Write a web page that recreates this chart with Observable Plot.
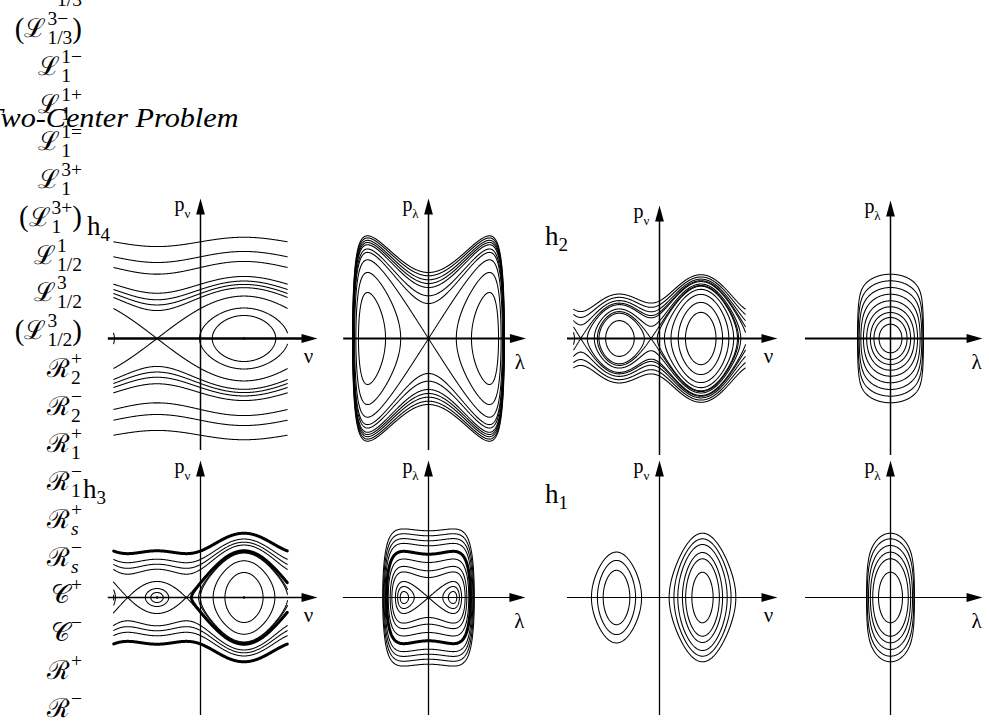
<!DOCTYPE html>
<html>
<head>
<meta charset="utf-8">
<script src="https://cdn.jsdelivr.net/npm/d3@7"></script>
<script src="https://cdn.jsdelivr.net/npm/@observablehq/plot@0.6"></script>
<style>
  html, body { margin: 0; padding: 0; background: #fff; }
  #figure { position: relative; width: 989px; height: 723px; overflow: hidden; background: #fff;
            font-family: "Liberation Serif", "DejaVu Serif", serif; color: #000; }
  .panel { position: absolute; }
  .panel svg { display: block; overflow: visible; }
  .row { position: absolute; right: 907px; transform: translateY(-50%); display: flex; align-items: center;
         font-size: 29px; line-height: 1; white-space: nowrap; }
  .base { font-family: "DejaVu Serif", serif; font-size: 26px; }
  .scripts { display: flex; flex-direction: column; font-size: 19.5px; line-height: 0.98; margin-left: 1px; }
  .title { position: absolute; top: 104px; font-style: italic; font-size: 28px; line-height: 1; white-space: nowrap; }
  .energy { position: absolute; font-size: 27px; line-height: 1; white-space: nowrap; }
  .energy sub { font-size: 19px; vertical-align: -0.3em; }
</style>
</head>
<body>
<div id="figure"></div>
<script>
// ---------- Orbit-type labels of the left column ----------
const labelBase  = ["ℒ","ℒ","ℒ","ℒ","ℒ","ℒ","ℒ","ℒ","ℒ","ℒ","ℛ","ℛ","ℛ","ℛ","ℛ","ℛ","𝒞","𝒞","ℛ","ℛ"];
const labelSup   = ["3+","3−","1−","1+","1=","3+","3+","1","3","3","+","−","+","−","+","−","+","−","+","−"];
const labelSub   = ["1/3","1/3","1","1","1","1","1","1/2","1/2","1/2","2","2","1","1","s","s","","","",""];
const labelParen = [false,true,false,false,false,false,true,false,false,true,false,false,false,false,false,false,false,false,false,false];
const titleText  = "Two-Center Problem";

// Energy levels of the two rows / columns of phase portraits
const energyNames = ["h4", "h2", "h3", "h1"];
const energyIndex = ["4", "2", "3", "1"];

// ---------- ν-plane potentials  V(ν) = c0·cos2πν + c1·cosπν + c2·sinπν + c3 ----------
const h4NuCoef = [0, 0, -0.09, 0];
const h2NuCoef = [0.09375, -0.0275, -0.105, -0.01125];
const h3NuCoef = [0.0497, 0, -0.0976, 0];
const h1NuCoef = [0.1963, 0, -0.1035, 0];

// ---------- λ-plane potentials  W(λ) = c0·λ² + c1·(1/(1-λ²) - 1) ----------
const h4LamCoef = [-2.2407, 0.5042];
const h2LamCoef = [0.1525, 0.03425];
const h3LamCoef = [-0.6827, 0.4440];
const h1LamCoef = [0.2577, 0.03368];

// ---------- Orbits, given by the momentum where they cross a reference coordinate ----------
// h4, ν: rotating orbits at ν = -1, librations at the island centre ν = 0.5
const h4NuRotP = [0.967, 0.817, 0.71, 0.543, 0.49, 0.45, 0.41];
const h4NuIslandP = [0.23, 0.305];
const h4NuCentres = [0.5];
// h4, λ: orbits at λ = 0 and at the island centres
const h4LamRotP = [0.66, 0.627, 0.587, 0.55, 0.51, 0.427, 0.35];
const h4LamIslandP = [0.46, 0.66];
// h2, ν: orbits at the left island centre ν = -0.5, and those only round the right one (ν = 0.5)
const h2NuLeftP = [0.443, 0.41, 0.377, 0.337, 0.293, 0.25, 0.175];
const h2NuRightP = [0.44, 0.36, 0.26];
// h2, λ: orbits at λ = 0
const h2LamP = [0.643, 0.577, 0.51, 0.443, 0.377, 0.317, 0.26, 0.21, 0.143];
// h3, ν: orbits at the left island centre ν = -0.5 and at the right one ν = 0.5
const h3NuLeftP = [0.383, 0.333, 0.283, 0.09, 0.05];
const h3NuLeftThickP = [0.467];
const h3NuRightP = [0.367, 0.25];
const h3NuRightThickP = [0.467];
const h3NuCentres = [-0.5, 0.5];
// h3, λ: orbits at λ = 0 and at the island centres
const h3LamRotP = [0.667, 0.617, 0.567, 0.517, 0.35, 0.267, 0.2];
const h3LamRotThickP = [0.433];
const h3LamIslandP = [0.06, 0.11];
// h1: orbits at ν = 0.5 and at λ = 0
const h1NuP = [0.643, 0.587, 0.53, 0.45, 0.387, 0.253];
const h1LamP = [0.643, 0.587, 0.52, 0.453, 0.387, 0.253];

// ---------- helpers ----------
const nuPotential = c => nu => c[0] * Math.cos(2 * Math.PI * nu) + c[1] * Math.cos(Math.PI * nu) + c[2] * Math.sin(Math.PI * nu) + c[3];
const lamPotential = c => u => { const s = 1 - u * u; return s <= 0.0005 ? 1e3 : c[0] * u * u + c[1] * (1 / s - 1); };

function localMaxima(V, lo, hi) {
  const n = 6000, out = [];
  let prev = V(lo), cur = V(lo + (hi - lo) / n);
  for (let i = 2; i <= n; ++i) {
    const next = V(lo + i * (hi - lo) / n);
    if (cur > prev && cur >= next) out.push(cur);
    prev = cur; cur = next;
  }
  return out.filter((v, i) => out.findIndex(w => Math.abs(w - v) < 1e-5) === i);
}
function minimumOf(V, lo, hi) {
  let m = Infinity;
  for (let i = 0; i <= 6000; ++i) m = Math.min(m, V(lo + i * (hi - lo) / 6000));
  return m;
}
const atRef = (E0, ps, extra = {}) => ps.map(p => ({E: p * p + E0, ...extra}));

// Level curves of H on a fine grid; pieces leaving the view are cut away
function levelLines(H, view, step, levels) {
  const [[xa, xb], [ya, yb]] = view;
  const pad = [step[0] * 8, step[1] * 8];
  const X0 = xa - pad[0], X1 = xb + pad[0], Y0 = ya - pad[1], Y1 = yb + pad[1];
  const nx = Math.ceil((X1 - X0) / step[0]), ny = Math.ceil((Y1 - Y0) / step[1]);
  const gx = (X1 - X0) / nx, gy = (Y1 - Y0) / ny;
  const values = new Float64Array(nx * ny);
  for (let j = 0; j < ny; ++j) {
    const y = Y0 + (j + 0.5) * gy;
    for (let i = 0; i < nx; ++i) values[j * nx + i] = H(X0 + (i + 0.5) * gx, y);
  }
  const contour = d3.contours().size([nx, ny]);
  const inside = (x, y) => x >= xa && x <= xb && y >= ya && y <= yb;
  const out = [];
  let id = 0;
  for (const level of levels) {
    const geom = contour.contour(values, level.E);
    for (const polygon of geom.coordinates) {
      for (const ring of polygon) {
        let run = [];
        const flush = () => {
          if (run.length > 1 && (!level.keep || level.keep(run))) {
            for (const [x, y] of run) out.push({x, y, id, thick: !!level.thick});
            id++;
          }
          run = [];
        };
        const pts = ring.map(([a, b]) => [X0 + a * gx, Y0 + b * gy]);
        const k = pts.findIndex(([x, y]) => !inside(x, y));
        const seq = k < 0 ? pts : pts.slice(k, pts.length - 1).concat(pts.slice(0, k + 1));
        for (const p of seq) { if (inside(p[0], p[1])) run.push(p); else flush(); }
        flush();
      }
    }
  }
  return out;
}

// Filled, narrow arrowhead with its tip at the anchor, pointing up
const arrowHead = {
  draw(context) {
    context.moveTo(0, 0);
    context.lineTo(4.4, 16);
    context.lineTo(-4.4, 16);
    context.closePath();
  }
};

const SY = 100;               // pixels per unit of momentum
const SERIF = "Liberation Serif, DejaVu Serif, serif";

const Vh4 = nuPotential(h4NuCoef), Vh2 = nuPotential(h2NuCoef), Vh3 = nuPotential(h3NuCoef), Vh1 = nuPotential(h1NuCoef);
const Wh4 = lamPotential(h4LamCoef), Wh2 = lamPotential(h2LamCoef), Wh3 = lamPotential(h3LamCoef), Wh1 = lamPotential(h1LamCoef);
const meanX = run => d3.mean(run, d => d[0]);

const panels = [
  { // h4, ν-plane
    box: [100, 188, 230, 267], origin: [200, 338], sx: 87, V: Vh4, sym: "ν",
    view: [[-1, 1], [-1.2, 1.2]], axisX: [-1.06, 1.345], axisY: [-1.12, 1.40], hw: 2.4, vw: 1.5,
    levels: [...atRef(Vh4(-1), h4NuRotP), ...atRef(Vh4(0.5), h4NuIslandP), ...localMaxima(Vh4, -1.2, 1.2).map(E => ({E}))],
    centres: h4NuCentres
  },
  { // h4, λ-plane
    box: [335, 188, 200, 267], origin: [428, 338], sx: 84, V: Wh4, sym: "λ",
    view: [[-1.05, 1.05], [-1.3, 1.3]], axisX: [-1.01, 1.16], axisY: [-1.12, 1.40], hw: 2.0, vw: 1.5,
    levels: [...atRef(Wh4(0), h4LamRotP), ...atRef(minimumOf(Wh4, 0, 0.99), h4LamIslandP), ...localMaxima(Wh4, -0.95, 0.95).map(E => ({E}))],
    centres: []
  },
  { // h2, ν-plane
    box: [560, 188, 230, 272], origin: [659, 338], sx: 86, V: Vh2, sym: "ν",
    view: [[-1, 1], [-1, 1]], axisX: [-1.07, 1.372], axisY: [-1.17, 1.33], hw: 2.0, vw: 1.5,
    levels: [...atRef(Vh2(-0.5), h2NuLeftP), ...atRef(Vh2(0.5), h2NuRightP), ...localMaxima(Vh2, -1.2, 1.2).map(E => ({E}))],
    centres: []
  },
  { // h2, λ-plane
    box: [795, 188, 194, 272], origin: [890, 338], sx: 35, V: Wh2, sym: "λ",
    view: [[-1.05, 1.05], [-1.3, 1.3]], axisX: [-2.43, 2.63], axisY: [-1.17, 1.38], hw: 2.0, vw: 1.5,
    levels: atRef(Wh2(0), h2LamP),
    centres: []
  },
  { // h3, ν-plane
    box: [100, 455, 230, 268], origin: [200, 597], sx: 87, V: Vh3, sym: "ν",
    view: [[-1, 1], [-1.1, 1.1]], axisX: [-1.06, 1.345], axisY: [-1.18, 1.37], hw: 1.6, vw: 1.3,
    levels: [
      ...atRef(Vh3(-0.5), h3NuLeftP), ...atRef(Vh3(-0.5), h3NuLeftThickP, {thick: true}),
      ...atRef(Vh3(0.5), h3NuRightP), ...atRef(Vh3(0.5), h3NuRightThickP, {thick: true, keep: run => meanX(run) > -0.2}),
      ...localMaxima(Vh3, -1.2, 1.2).map(E => ({E}))
    ],
    centres: h3NuCentres
  },
  { // h3, λ-plane
    box: [335, 455, 200, 268], origin: [428, 597], sx: 56, V: Wh3, sym: "λ",
    view: [[-1.05, 1.05], [-1.3, 1.3]], axisX: [-1.52, 1.73], axisY: [-1.18, 1.37], hw: 1.2, vw: 1.3,
    levels: [
      ...atRef(Wh3(0), h3LamRotP), ...atRef(Wh3(0), h3LamRotThickP, {thick: true}),
      ...atRef(minimumOf(Wh3, 0, 0.99), h3LamIslandP), ...localMaxima(Wh3, -0.95, 0.95).map(E => ({E}))
    ],
    centres: []
  },
  { // h1, ν-plane
    box: [560, 455, 230, 268], origin: [659, 597], sx: 86, V: Vh1, sym: "ν",
    view: [[-1, 1], [-1, 1]], axisX: [-1.07, 1.372], axisY: [-1.18, 1.37], hw: 1.2, vw: 1.3,
    levels: atRef(Vh1(0.5), h1NuP),
    centres: []
  },
  { // h1, λ-plane
    box: [795, 455, 194, 268], origin: [890, 597], sx: 26, V: Wh1, sym: "λ",
    view: [[-1.05, 1.05], [-1.3, 1.3]], axisX: [-3.27, 3.54], axisY: [-1.18, 1.37], hw: 1.2, vw: 1.3,
    levels: atRef(Wh1(0), h1LamP),
    centres: []
  }
];

const fig = document.getElementById("figure");

for (const cfg of panels) {
  const [left, top, w, h] = cfg.box;
  const [ox, oy] = cfg.origin;
  const H = (x, p) => p * p + cfg.V(x);
  const curves = levelLines(H, cfg.view, [0.5 / cfg.sx, 0.5 / SY], cfg.levels);
  const [xLo, xTip] = cfg.axisX, [yLo, yTip] = cfg.axisY;
  const nuLike = cfg.sym === "ν";
  const chart = Plot.plot({
    width: w, height: h, margin: 0,
    x: {domain: [(left - ox) / cfg.sx, (left + w - ox) / cfg.sx], axis: null},
    y: {domain: [-(top + h - oy) / SY, (oy - top) / SY], axis: null},
    style: {background: "transparent", overflow: "visible"},
    marks: [
      Plot.line(curves.filter(d => !d.thick), {x: "x", y: "y", z: "id", stroke: "#000", strokeWidth: 1.05}),
      Plot.line(curves.filter(d => d.thick), {x: "x", y: "y", z: "id", stroke: "#000", strokeWidth: 3}),
      Plot.dot(cfg.centres.map(x => ({x, y: 0})), {x: "x", y: "y", r: 1.3, fill: "#000", stroke: null}),
      Plot.ruleY([{y: 0, x1: xLo, x2: xTip - 8 / cfg.sx}], {y: "y", x1: "x1", x2: "x2", stroke: "#000", strokeWidth: cfg.hw}),
      Plot.ruleX([{x: 0, y1: yLo, y2: yTip - 8 / SY}], {x: "x", y1: "y1", y2: "y2", stroke: "#000", strokeWidth: cfg.vw}),
      Plot.dot([{x: xTip, y: 0}], {x: "x", y: "y", symbol: arrowHead, r: 5, fill: "#000", stroke: null, rotate: 90}),
      Plot.dot([{x: 0, y: yTip}], {x: "x", y: "y", symbol: arrowHead, r: 5, fill: "#000", stroke: null}),
      Plot.text([{x: 0, y: yTip}], {x: "x", y: "y", text: () => "p", dx: -21, dy: 6.5, fontSize: 20, fontFamily: SERIF, textAnchor: "middle"}),
      Plot.text([{x: 0, y: yTip}], {x: "x", y: "y", text: () => cfg.sym, dx: -13, dy: 15.5, fontSize: 13, fontFamily: SERIF, textAnchor: "middle"}),
      Plot.text([{x: xTip, y: 0}], {x: "x", y: "y", text: () => cfg.sym, dx: nuLike ? -9 : -6, dy: nuLike ? 18 : 24, fontSize: 21, fontFamily: SERIF, textAnchor: "middle"})
    ]
  });
  const holder = document.createElement("div");
  holder.className = "panel";
  holder.style.left = left + "px";
  holder.style.top = top + "px";
  holder.appendChild(chart);
  fig.appendChild(holder);
}

// Left column of orbit labels
const rowTop0 = -9.7, rowStep = 37.75;
labelBase.forEach((b, i) => {
  const row = document.createElement("div");
  row.className = "row";
  row.style.top = (rowTop0 + rowStep * i) + "px";
  const sub = labelSub[i];
  const subHtml = sub === "" ? "&nbsp;" : /[a-z]/.test(sub) ? `<i>${sub}</i>` : sub;
  row.innerHTML = (labelParen[i] ? "<span>(</span>" : "") +
    `<span class="base">${b}</span><span class="scripts"><span>${labelSup[i]}</span><span>${subHtml}</span></span>` +
    (labelParen[i] ? "<span>)</span>" : "");
  fig.appendChild(row);
});

// Heading, with its first letter running off the left edge
const title = document.createElement("div");
title.className = "title";
title.innerHTML = `<span id="t0">${titleText[0]}</span>${titleText.slice(1)}`;
fig.appendChild(title);
const firstW = document.getElementById("t0").getBoundingClientRect().width;
const restW = title.getBoundingClientRect().width - firstW;
title.style.left = (-firstW) + "px";
title.style.transformOrigin = `${firstW}px 50%`;
title.style.transform = `scaleX(${238 / restW})`;

// Energy labels of the panels
const energyPos = [[87, 213], [545, 223], [83, 476], [545, 481]];
energyNames.forEach((name, i) => {
  const el = document.createElement("div");
  el.className = "energy";
  el.style.left = energyPos[i][0] + "px";
  el.style.top = energyPos[i][1] + "px";
  el.innerHTML = `${name[0]}<sub>${energyIndex[i]}</sub>`;
  fig.appendChild(el);
});
</script>
</body>
</html>
